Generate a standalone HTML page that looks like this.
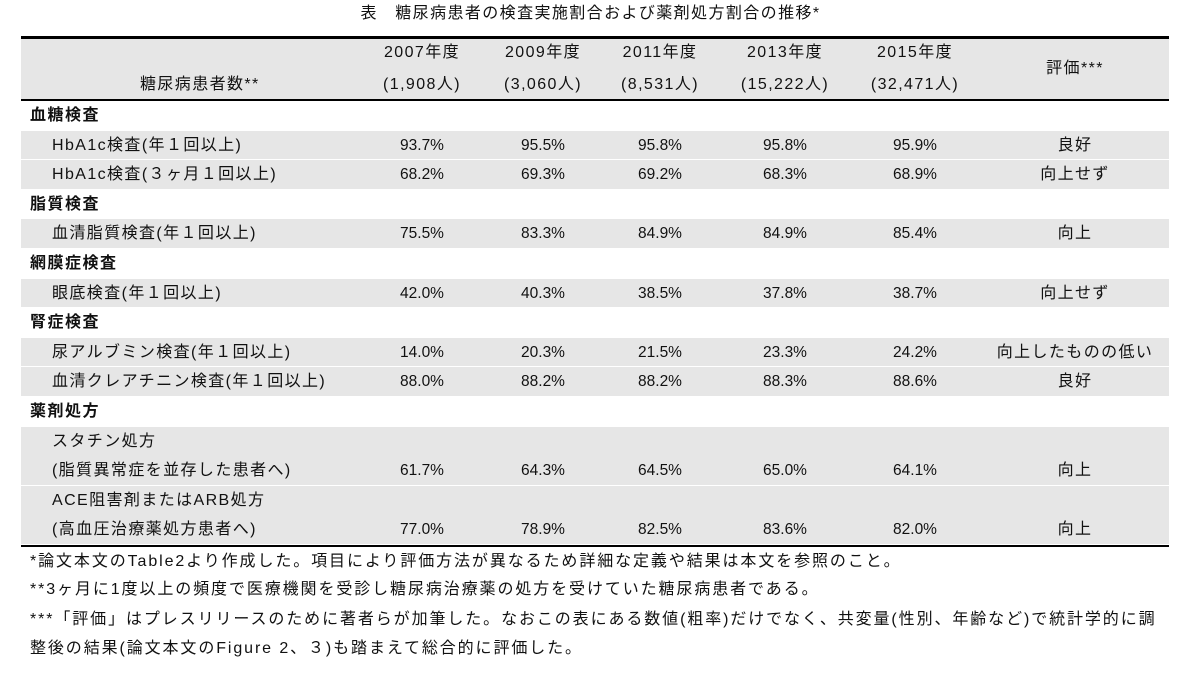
<!DOCTYPE html>
<html><head><meta charset="utf-8"><style>
body{margin:0;width:1181px;height:673px;background:#fff;position:relative;font-family:"Liberation Sans","Noto Sans CJK JP",sans-serif;color:#111;font-size:15.5px;overflow:hidden}
div{position:absolute;white-space:nowrap}
.g{background:#e6e6e6;left:21px;width:1148px}
.r{background:#000;left:21px;width:1148px;z-index:5}
.c{text-align:center;width:130px;line-height:30px}
.b{font-weight:bold;font-size:16px;letter-spacing:1.5px}
.l{letter-spacing:1.4px;font-size:16px}
.f{letter-spacing:1.9px;font-size:16px;line-height:20px;left:30px}
</style></head><body>
<div class="l" style="left:0;width:1181px;top:4px;text-align:center;line-height:20px">表　糖尿病患者の検査実施割合および薬剤処方割合の推移*</div>
<div class="g" style="top:38px;height:62px"></div>
<div id="t"></div>
<div class="r" style="top:36px;height:3px"></div>
<div class="r" style="top:99px;height:2px"></div>
<div class="r" style="top:545px;height:2px"></div>
<div class="f" style="top:552px">*論文本文のTable2より作成した。項目により評価方法が異なるため詳細な定義や結果は本文を参照のこと。</div>
<div class="f" style="top:580px">**3ヶ月に1度以上の頻度で医療機関を受診し糖尿病治療薬の処方を受けていた糖尿病患者である。</div>
<div class="f" style="top:610px">***「評価」はプレスリリースのために著者らが加筆した。なおこの表にある数値(粗率)だけでなく、共変量(性別、年齢など)で統計学的に調</div>
<div class="f" style="top:639px">整後の結果(論文本文のFigure 2、３)も踏まえて総合的に評価した。</div>
<script>
const years=["2007年度","2009年度","2011年度","2013年度","2015年度"];
const counts=["(1,908人)","(3,060人)","(8,531人)","(15,222人)","(32,471人)"];
const labels=[["血糖検査"],["HbA1c検査(年１回以上)"],["HbA1c検査(３ヶ月１回以上)"],["脂質検査"],["血清脂質検査(年１回以上)"],["網膜症検査"],["眼底検査(年１回以上)"],["腎症検査"],["尿アルブミン検査(年１回以上)"],["血清クレアチニン検査(年１回以上)"],["薬剤処方"],["スタチン処方","(脂質異常症を並存した患者へ)"],["ACE阻害剤またはARB処方","(高血圧治療薬処方患者へ)"]];
const values=[null,["93.7%","95.5%","95.8%","95.8%","95.9%"],["68.2%","69.3%","69.2%","68.3%","68.9%"],null,["75.5%","83.3%","84.9%","84.9%","85.4%"],null,["42.0%","40.3%","38.5%","37.8%","38.7%"],null,["14.0%","20.3%","21.5%","23.3%","24.2%"],["88.0%","88.2%","88.2%","88.3%","88.6%"],null,["61.7%","64.3%","64.5%","65.0%","64.1%"],["77.0%","78.9%","82.5%","83.6%","82.0%"]];
const evals=[null,"良好","向上せず",null,"向上",null,"向上せず",null,"向上したものの低い","良好",null,"向上","向上"];
const colX=[422,543,660,785,915];const evalX=1075;const RH=29.6;
const t=document.getElementById('t');
function add(html,style,name){const d=document.createElement('div');d.innerHTML=html;d.style.cssText=style;


t.appendChild(d);return d;}
years.forEach((y,i)=>{add(y,`left:${colX[i]-65}px;top:38px;`,'year-header').className='c l';
add(counts[i],`left:${colX[i]-65}px;top:70px;`,'count-header').className='c l';});
add('糖尿病患者数**','left:140px;top:70px;line-height:30px','patients-label').className='l';
add('評価***',`left:${evalX-65}px;top:54px;`,'eval-header').className='c l';
let y=101;
labels.forEach((lab,i)=>{const h=RH*lab.length;const sec=values[i]===null;
if(!sec){add('',`left:21px;width:1148px;top:${y}px;height:${h-1}px;background:#e6e6e6`,'row-band');}
lab.forEach((l,k)=>{const d=add(l,`left:${sec?30:52}px;top:${y+k*RH}px;line-height:30px`,sec?'section-label':'row-label');d.className=sec?'b':'l';});
if(!sec){const vy=y+(lab.length-1)*RH;
values[i].forEach((v,j)=>{add(v,`left:${colX[j]-65}px;top:${vy}px`,'value-cell').className='c';});
const e=add(evals[i],`left:${evalX-100}px;top:${vy}px`,'eval-cell');e.className='c l';e.style.width='200px';}
y+=h;});
</script>
</body></html>
